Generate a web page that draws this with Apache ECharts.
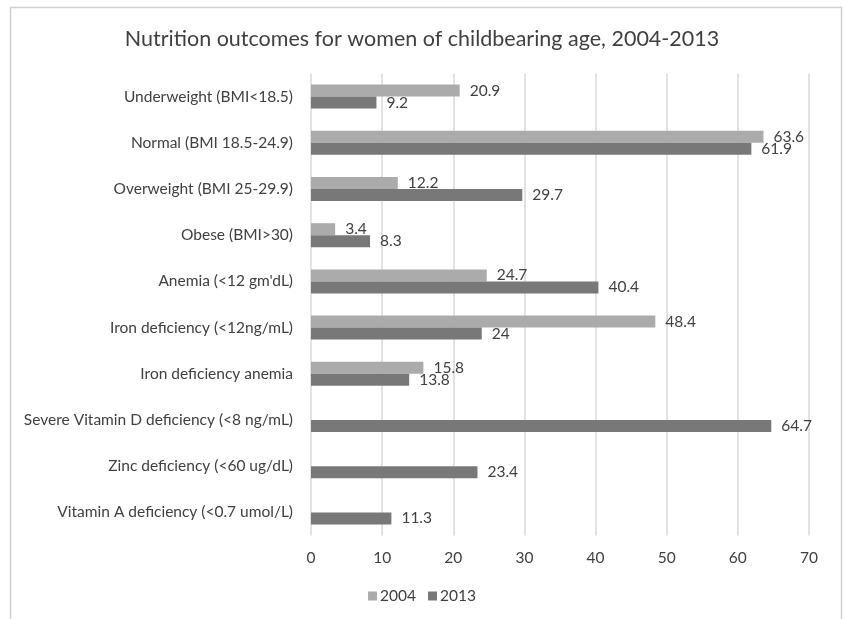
<!DOCTYPE html>
<html>
<head>
<meta charset="utf-8">
<script src="https://cdn.jsdelivr.net/npm/echarts@6/dist/echarts.min.js"></script>
<style>
  html, body { margin: 0; padding: 0; background: #ffffff; }
  #chart { width: 844px; height: 619px; }
</style>
</head>
<body>
<div id="chart"></div>
<script>
// Outcome categories, listed top to bottom
const categories = [
  'Underweight (BMI<18.5)',
  'Normal (BMI 18.5-24.9)',
  'Overweight (BMI 25-29.9)',
  'Obese (BMI>30)',
  "Anemia (<12 gm'dL)",
  'Iron deficiency (<12ng/mL)',
  'Iron deficiency anemia',
  'Severe Vitamin D deficiency (<8 ng/mL)',
  'Zinc deficiency (<60 ug/dL)',
  'Vitamin A deficiency (<0.7 umol/L)'
];

// Prevalence (%) by survey year; null where not measured
const values2004 = [20.9, 63.6, 12.2, 3.4, 24.7, 48.4, 15.8, null, null, null];
const values2013 = [9.2, 61.9, 29.7, 8.3, 40.4, 24, 13.8, 64.7, 23.4, 11.3];

const seriesNames = ['2004', '2013'];
const xTicks = [0, 10, 20, 30, 40, 50, 60, 70];

const FONT = 'Lato, "Open Sans", sans-serif';
const TEXT = '#404040';

const chart = echarts.init(document.getElementById('chart'), null, { renderer: 'canvas' });

const labelStyle = {
  show: true,
  position: 'right',
  distance: 10,
  color: TEXT,
  fontSize: 15.5,
  fontFamily: FONT,
  formatter: p => (p.value == null ? '' : String(p.value))
};

chart.setOption({
  backgroundColor: '#ffffff',
  animation: false,
  graphic: [{
    type: 'rect',
    shape: { x: 10.5, y: 7.5, width: 831, height: 640 },
    style: { fill: 'none', stroke: '#d0d0d0', lineWidth: 1.5 },
    silent: true
  }],
  title: {
    text: 'Nutrition outcomes for women of childbearing age, 2004-2013',
    left: 'center',
    top: 23,
    textStyle: { color: TEXT, fontSize: 21.5, fontWeight: 'normal', fontFamily: FONT }
  },
  legend: {
    data: seriesNames,
    bottom: 10,
    left: 'center',
    itemWidth: 9,
    itemHeight: 9,
    itemGap: 12,
    icon: 'rect',
    textStyle: { color: TEXT, fontSize: 15.5, fontFamily: FONT, padding: [0, 0, 0, -2] }
  },
  grid: { left: 311, right: 35, top: 73.5, height: 462, containLabel: false },
  xAxis: {
    type: 'value',
    min: xTicks[0],
    max: xTicks[xTicks.length - 1],
    interval: 10,
    axisLine: { show: false },
    axisTick: { show: false },
    axisLabel: { color: TEXT, fontSize: 15.5, fontFamily: FONT, margin: 14 },
    splitLine: { show: true, lineStyle: { color: '#d9d9d9', width: 1.5 } }
  },
  yAxis: {
    type: 'category',
    data: categories,
    inverse: true,
    axisLine: { show: false },
    axisTick: { show: false },
    axisLabel: { color: TEXT, fontSize: 15.5, fontFamily: FONT, margin: 18 }
  },
  series: [
    {
      name: seriesNames[0],
      type: 'bar',
      data: values2004,
      barWidth: 12,
      barGap: '0%',
      itemStyle: { color: '#ababab' },
      label: labelStyle
    },
    {
      name: seriesNames[1],
      type: 'bar',
      data: values2013,
      barWidth: 12,
      barGap: '0%',
      itemStyle: { color: '#787878' },
      label: labelStyle
    }
  ]
});
</script>
</body>
</html>
